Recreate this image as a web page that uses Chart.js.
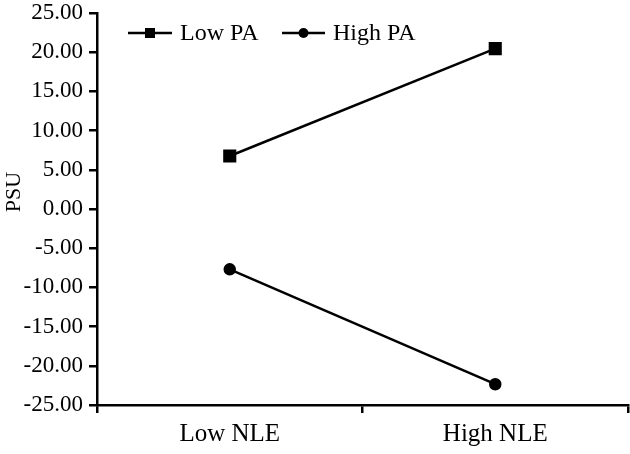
<!DOCTYPE html>
<html>
<head>
<meta charset="utf-8">
<script src="https://cdn.jsdelivr.net/npm/chart.js@4"></script>
<style>
  html, body { margin: 0; padding: 0; background: #fff; }
  #wrap { width: 630px; height: 454px; position: relative; }
</style>
</head>
<body>
<div id="wrap"><canvas id="psuChart"></canvas></div>
<script>
// data
const categories = ['Low NLE', 'High NLE'];
const seriesNames = ['Low PA', 'High PA'];
const lowPA = [6.76, 20.45];
const highPA = [-7.70, -22.35];
const yTicks = [-25, -20, -15, -10, -5, 0, 5, 10, 15, 20, 25];
const yTitle = 'PSU';

const SERIF = '"Liberation Serif", "Times New Roman", serif';

// legend + y title drawn by hand (line with marker, like the original)
const extraText = {
    id: 'extraText',
    afterDraw(chart) {
        const ctx = chart.ctx;
        ctx.save();
        ctx.fillStyle = '#000';
        ctx.strokeStyle = '#000';
        ctx.lineWidth = 2.5;
        ctx.font = '24px ' + SERIF;
        ctx.textBaseline = 'middle';

        // Low PA
        ctx.beginPath(); ctx.moveTo(128, 33); ctx.lineTo(172, 33); ctx.stroke();
        ctx.fillRect(145, 28, 10, 10);
        ctx.fillText(seriesNames[0], 180, 34);

        // High PA
        ctx.beginPath(); ctx.moveTo(282, 33); ctx.lineTo(325, 33); ctx.stroke();
        ctx.beginPath(); ctx.arc(303.5, 33, 5, 0, Math.PI * 2); ctx.fill();
        ctx.fillText(seriesNames[1], 333, 34);

        // y title
        ctx.font = '22px ' + SERIF;
        ctx.translate(14, 192);
        ctx.rotate(-Math.PI / 2);
        ctx.textAlign = 'center';
        ctx.fillText(yTitle, 0, 0);
        ctx.restore();
    }
};

const ctxPsu = document.getElementById('psuChart').getContext('2d');
new Chart(ctxPsu, {
    type: 'line',
    data: {
        labels: categories,
        datasets: [
            { label: seriesNames[0], data: lowPA, borderColor: '#000', backgroundColor: '#000', borderWidth: 2.5,
              pointStyle: 'rect', pointRadius: 7.5, tension: 0 },
            { label: seriesNames[1], data: highPA, borderColor: '#000', backgroundColor: '#000', borderWidth: 2.5,
              pointStyle: 'circle', pointRadius: 5, tension: 0 }
        ]
    },
    options: {
        responsive: true, maintainAspectRatio: false, animation: false,
        layout: { autoPadding: false, padding: { top: 13, right: 2, left: 0, bottom: 0 } },
        plugins: { legend: { display: false }, tooltip: { enabled: false } },
        scales: {
            x: {
                offset: true,
                grid: { offset: true, drawOnChartArea: false, color: '#000', tickLength: 8, lineWidth: 2.5 },
                border: { color: '#000', width: 2.5 },
                ticks: { color: '#000', font: { family: SERIF, size: 25 }, padding: 6 },
                afterFit: s => { s.height = 49; s.paddingLeft = 0; s.paddingRight = 0; }
            },
            y: {
                min: -25, max: 25,
                afterBuildTicks: s => { s.ticks = yTicks.map(v => ({ value: v })); },
                grid: { drawOnChartArea: false, color: '#000', tickLength: 8, lineWidth: 2.5 },
                border: { color: '#000', width: 2.5 },
                ticks: { color: '#000', font: { family: SERIF, size: 23 }, padding: 6,
                         callback: v => v.toFixed(2) },
                afterFit: s => { s.width = 97; s.paddingTop = 0; s.paddingBottom = 0; }
            }
        }
    },
    plugins: [extraText]
});
</script>
</body>
</html>
